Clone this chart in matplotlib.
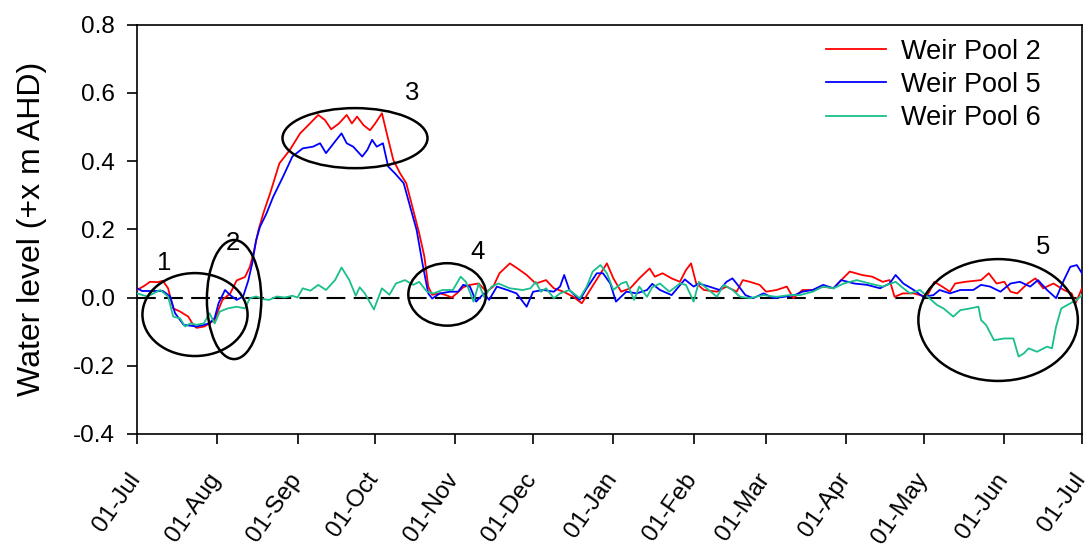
import matplotlib
matplotlib.use("Agg")
import matplotlib.pyplot as plt
import matplotlib.dates as mdates
from matplotlib.patches import Ellipse
from matplotlib.transforms import ScaledTranslation
import pandas as pd
import numpy as np

plt.rcParams['font.family'] = ['Liberation Sans', 'DejaVu Sans']

# ---- data: day offset from 01-Jul, water level (m) ----
red_days = [0, 3, 5, 8, 10, 12, 14, 16.6, 19.8, 21.7, 23, 26, 28, 30, 31.4, 33, 36, 38.5, 41.7, 43.6,
            45, 46.9, 48.8, 51.4, 55, 59, 63, 66.8, 70, 72.6, 75, 78, 81, 83, 85, 87.5, 90, 92, 94.6, 96.5,
            99, 101.6, 104, 106.7, 109, 111, 112.5, 114, 117, 119, 121.6, 123.5, 126, 128.6, 132, 135,
            137.6, 140, 144, 147, 150.5, 154, 158, 161, 164.7, 168.6, 171.8, 175, 179, 181.5, 184, 187,
            190.5, 194, 198, 200, 203, 206.5, 209.7, 212, 214, 216, 219, 224, 227.7, 231.6, 234, 236.7,
            240.5, 243, 247, 251, 253.5, 257, 261, 265, 269, 272, 275.3, 280, 284, 288, 290.7, 292.6,
            295.8, 300, 305, 308, 311, 314, 316, 320, 326, 329, 332, 335, 337.4, 340, 344, 347, 350,
            354, 358, 361, 362.5, 365]
red_vals = [0.022, 0.035, 0.046, 0.045, 0.049, 0.027, -0.032, -0.041, -0.056, -0.080, -0.089, -0.085,
            -0.076, -0.066, -0.037, -0.007, 0.012, 0.050, 0.060, 0.090, 0.130, 0.197, 0.247, 0.305, 0.393,
            0.432, 0.481, 0.510, 0.535, 0.520, 0.493, 0.510, 0.535, 0.510, 0.530, 0.505, 0.490, 0.510,
            0.540, 0.480, 0.403, 0.364, 0.335, 0.256, 0.188, 0.120, 0.032, 0.008, 0.012, 0.008, 0.000,
            0.012, 0.030, 0.037, 0.041, 0.017, 0.032, 0.071, 0.100, 0.085, 0.066, 0.041, 0.051, 0.027,
            0.017, 0.002, -0.017, 0.022, 0.070, 0.100, 0.056, 0.017, 0.027, 0.056, 0.085, 0.061, 0.071,
            0.056, 0.046, 0.080, 0.100, 0.041, 0.022, 0.017, 0.032, 0.017, 0.051, 0.046, 0.037, 0.017,
            0.022, 0.032, -0.002, 0.022, 0.022, 0.032, 0.027, 0.051, 0.076, 0.066, 0.061, 0.046, 0.051,
            0.002, 0.012, 0.012, 0.002, 0.046, 0.032, 0.017, 0.041, 0.046, 0.051, 0.071, 0.041, 0.046,
            0.017, 0.012, 0.041, 0.056, 0.027, 0.041, 0.022, 0.012, -0.017, 0.027]

blue_days = [0, 2, 6, 10, 12.8, 14.7, 18, 23, 26, 28, 30, 31.5, 34, 36, 38.5, 41, 43, 44.5, 46, 47.5,
             50, 52.6, 56.4, 60, 64, 68, 70.7, 73, 77, 79, 81, 83.5, 87, 89, 90.8, 92.6, 95, 97, 99.6,
             103, 105.5, 108, 110.5, 112.5, 114, 117, 121, 124, 126, 128.6, 131, 134, 136, 139, 143,
             146.6, 150.5, 153, 157, 161, 163.4, 165, 167, 171, 173.7, 177.6, 180, 182.8, 185, 189, 193,
             197, 199, 202, 206.5, 211.6, 215, 217, 221, 225, 227.7, 230, 232, 235, 238, 242, 246, 250,
             254, 257, 261, 265, 269, 272, 277, 282, 287, 290.7, 293, 296, 300, 303.7, 307.6, 310, 314,
             318, 323, 326, 329.5, 333.5, 337.4, 341, 345, 348, 351.5, 355, 358, 360.5, 363, 365]
blue_vals = [0.027, 0.019, 0.019, 0.019, 0.003, -0.046, -0.080, -0.085, -0.080, -0.075, -0.060, -0.017,
             0.022, 0.007, -0.007, 0.003, 0.050, 0.100, 0.168, 0.207, 0.246, 0.295, 0.354, 0.413, 0.437,
             0.442, 0.452, 0.423, 0.462, 0.481, 0.452, 0.442, 0.413, 0.433, 0.462, 0.442, 0.452, 0.384,
             0.364, 0.335, 0.266, 0.198, 0.090, 0.012, -0.003, 0.012, 0.017, 0.017, 0.037, 0.032, -0.012,
             0.012, -0.007, 0.032, 0.022, 0.012, -0.027, 0.017, 0.022, 0.017, 0.032, 0.066, 0.022, -0.007,
             0.027, 0.071, 0.071, 0.041, -0.012, 0.017, 0.012, 0.022, 0.040, 0.022, 0.007, 0.053, 0.032,
             0.041, 0.032, 0.022, 0.046, 0.056, 0.037, 0.007, -0.002, 0.012, -0.002, 0.002, 0.007, 0.017,
             0.022, 0.037, 0.027, 0.051, 0.041, 0.037, 0.027, 0.041, 0.066, 0.041, 0.022, 0.002, 0.007,
             0.022, 0.012, 0.022, 0.022, 0.037, 0.032, 0.017, 0.041, 0.046, 0.032, 0.051, 0.022, -0.002,
             0.051, 0.090, 0.095, 0.071]

green_days = [0, 4, 9, 12, 14, 16.6, 18.6, 20.6, 23, 25.8, 28, 30, 32, 35, 38.5, 41.7, 43.6, 46, 49, 51,
              54, 57, 60, 62, 64, 67, 70, 73, 76.5, 79, 82, 84.5, 86, 88, 91.5, 94.6, 97.5, 100, 103.5,
              106.7, 109, 112, 114.5, 118, 122, 125, 127, 130, 132, 134, 137, 139.6, 144, 149, 152, 154,
              156, 158, 161, 163.4, 167, 171, 173.7, 176, 179, 181.5, 184, 187, 189, 192, 194, 197, 199,
              202, 205.6, 209.7, 212, 215, 217, 220, 224, 226.6, 230, 233, 236.7, 242, 247, 252, 256, 261,
              265, 269, 273, 278, 283, 288, 293, 296, 298.6, 302.4, 306, 309, 311.5, 315.3, 318, 321.8,
              325, 326, 328, 331, 335, 338.5, 340.5, 342.5, 344.4, 347.6, 351.5, 353.4, 355, 357, 360.5,
              363, 365]
green_vals = [0.012, 0.003, 0.022, 0.003, -0.056, -0.061, -0.085, -0.076, -0.080, -0.076, -0.046, -0.076,
              -0.041, -0.032, -0.027, -0.032, -0.002, 0.003, -0.005, -0.007, 0.003, 0.000, 0.005, 0.000,
              0.027, 0.020, 0.037, 0.022, 0.051, 0.088, 0.051, 0.005, 0.030, 0.012, -0.035, 0.027, 0.008,
              0.041, 0.051, 0.037, 0.046, 0.017, 0.012, 0.022, 0.022, 0.061, 0.046, -0.012, 0.041, 0.002,
              0.032, 0.041, 0.027, 0.022, 0.027, 0.046, 0.017, 0.027, -0.002, 0.012, 0.022, -0.002, 0.032,
              0.076, 0.095, 0.071, 0.022, 0.041, 0.046, -0.007, 0.032, 0.002, 0.030, 0.041, 0.017, 0.041,
              0.037, -0.012, 0.046, 0.027, 0.002, 0.037, 0.022, 0.002, -0.002, 0.007, 0.002, 0.007, 0.007,
              0.017, 0.032, 0.027, 0.041, 0.051, 0.041, 0.032, 0.046, 0.027, 0.012, 0.022, -0.002, -0.022,
              -0.032, -0.056, -0.037, -0.032, -0.027, -0.066, -0.081, -0.125, -0.120, -0.120, -0.173,
              -0.164, -0.149, -0.159, -0.144, -0.149, -0.085, -0.032, -0.017, -0.007, 0.007]

series_names = ["Weir Pool 2", "Weir Pool 5", "Weir Pool 6"]
series_colors = ["#FF0000", "#0000FF", "#19BF8C"]

y_ticks = [-0.4, -0.2, 0.0, 0.2, 0.4, 0.6, 0.8]
y_label = "Water level (+x m AHD)"

# ellipse annotations: label, centre day, centre value, width (days), height (m)
ellipse_labels = ["1", "2", "3", "4", "5"]
ellipse_center_days = [22.4, 37.5, 84.2, 119.8, 332.6]
ellipse_center_vals = [-0.050, -0.006, 0.467, 0.009, -0.066]
ellipse_widths = [40.6, 21.0, 56.0, 30.0, 61.6]
ellipse_heights = [0.243, 0.349, 0.176, 0.183, 0.357]
label_days = [10.5, 37.0, 106.2, 131.7, 350.0]
label_vals = [0.102, 0.160, 0.600, 0.133, 0.148]

start = pd.Timestamp("2000-07-01")
def to_dates(d):
    return start + pd.to_timedelta(np.asarray(d, dtype=float), unit="D")

fig = plt.figure(figsize=(10.88, 5.49), dpi=100)
ax = fig.add_axes([137/1088, 1 - 434/549, (1082-137)/1088, (434-24.5)/549])

for days, vals, name, col in zip([red_days, blue_days, green_days],
                                 [red_vals, blue_vals, green_vals],
                                 series_names, series_colors):
    ax.plot(to_dates(days), vals, color=col, lw=1.3, label=name, zorder=3)

ax.axhline(0, color="black", lw=1.5, dashes=(9, 4), zorder=2)

for lab, cd, cv, w, h, ld, lv in zip(ellipse_labels, ellipse_center_days, ellipse_center_vals,
                                      ellipse_widths, ellipse_heights, label_days, label_vals):
    cx = mdates.date2num(start + pd.Timedelta(days=cd))
    e = Ellipse((cx, cv), w, h, fill=False, ec="black", lw=1.8, zorder=4)
    ax.add_patch(e)
    lx = mdates.date2num(start + pd.Timedelta(days=ld))
    ax.text(lx, lv, lab, fontsize=18.5, ha="center", va="center", zorder=5)

ax.set_xlim(start, start + pd.Timedelta(days=365))
ax.set_ylim(-0.4, 0.8)
ax.set_yticks(y_ticks)
ax.set_yticklabels([f"{v:.1f}" for v in y_ticks])
ax.xaxis.set_major_locator(mdates.MonthLocator())
ax.xaxis.set_major_formatter(mdates.DateFormatter("%d-%b"))
ax.tick_params(axis="both", direction="out", length=7.2, width=1.2, labelsize=17.5)
ax.tick_params(axis="y", pad=9)
ax.tick_params(axis="x", pad=22.5)
offset = ScaledTranslation(-1/100, 0, fig.dpi_scale_trans)
for lbl in ax.get_xticklabels():
    lbl.set_rotation(55)
    lbl.set_ha("right")
    lbl.set_va("center")
    lbl.set_rotation_mode("anchor")
    lbl.set_transform(lbl.get_transform() + offset)
for sp in ax.spines.values():
    sp.set_linewidth(1.2)
ax.set_ylabel(y_label, fontsize=23, labelpad=18)

ax.legend(loc="upper right", frameon=False, fontsize=19.5, handlelength=2.2,
          handletextpad=0.55, labelspacing=0.27, borderaxespad=0.12, bbox_to_anchor=(0.971, 1.0))

fig.savefig("out.png", dpi=100)
